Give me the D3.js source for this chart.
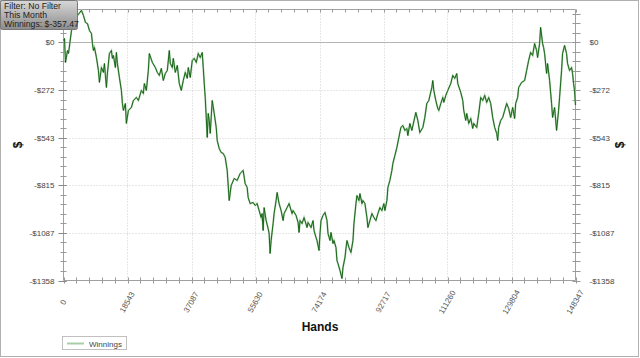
<!DOCTYPE html>
<html><head><meta charset="utf-8">
<script src="https://cdn.jsdelivr.net/npm/d3@7"></script>
<style>body{margin:0;background:#fff}svg{display:block;font-family:"Liberation Sans",Arial,sans-serif}</style>
</head><body><svg id="c" width="640" height="358"></svg>
<script>
const hands = [0,289,578,1157,1446,2314,2892,4049,5206,5784,6362,6941,7519,8098,8387,8676,8965,9544,10122,10411,10990,11568,11857,12146,12436,12725,13303,13882,14171,14460,15038,15328,15617,16195,16774,17063,17352,17930,18220,18798,19666,20244,21112,21690,22558,23136,23425,24004,24582,24871,25739,26606,27185,27763,28342,28920,29498,30077,30655,30944,31523,31812,32390,32969,33547,34126,34704,35282,35861,36150,36728,37307,37885,38464,39042,39620,40199,40488,40777,41066,41356,41645,41934,42223,42512,43090,43669,44248,44537,45115,45694,46272,46850,47429,48007,48586,49453,50321,51188,52056,52634,53213,53502,54080,54948,55526,56105,56683,57262,57551,57840,58129,58708,59286,59575,59864,60154,60732,61021,61600,61889,62467,63046,63624,63913,64781,65359,66227,66516,67384,67962,68251,68540,69119,69697,70565,70854,71722,72300,72589,73168,73457,74035,74324,74614,75192,75770,76349,76638,77216,77506,78084,78373,78952,79241,79530,80108,80687,80976,81554,81844,82133,82711,83290,83868,84157,84736,85025,85603,85892,86471,86760,87338,87917,88206,88784,89363,89941,90520,91098,91676,92255,92833,93122,93701,93990,94568,95147,95436,96014,96593,97171,97750,98328,98906,99485,99774,100352,100931,102088,102666,103244,104112,104690,105269,105847,106715,107004,107293,107872,108450,108739,109318,109896,110185,110764,111342,112210,112788,113366,113945,114234,115102,115680,115969,116548,116837,117415,117994,118572,118861,119729,120018,120307,120886,121464,122042,122621,123199,123778,124356,124934,125513,125802,126091,126670,127248,127826,128405,128983,129562,130140,130718,131008,131586,131875,132743,133610,134189,134767,135346,135924,136502,137081,137370,137948,138238,138816,139105,139394,139973,140262,140840,141419,141708,142286,142865,143443,143732,144311,144600,145178,145757,146046,146624,147203,147492,147781,148070,148347];
const winnings = [11,23,-114,-46,-63,68,126,154,183,154,114,108,68,51,-6,-46,-29,-86,-160,-228,-143,-171,-120,-188,-257,-177,-63,-46,-91,-74,-143,-57,-120,-200,-274,-348,-388,-348,-462,-388,-371,-331,-314,-331,-274,-291,-234,-274,-160,-63,-114,-143,-171,-188,-148,-217,-177,-160,-46,-120,-143,-91,-171,-131,-234,-274,-217,-171,-205,-143,-200,-103,-91,-114,-63,-86,-57,-143,-234,-314,-428,-542,-405,-445,-519,-331,-405,-485,-559,-605,-628,-633,-656,-730,-902,-816,-776,-787,-747,-730,-805,-827,-884,-919,-913,-930,-919,-959,-999,-976,-1073,-942,-1016,-1061,-1090,-1204,-1130,-1033,-976,-902,-856,-919,-959,-1016,-976,-942,-919,-976,-959,-987,-1027,-1084,-1016,-1033,-999,-1056,-1027,-1056,-1016,-1073,-1113,-1130,-1187,-1090,-1016,-987,-970,-1016,-1090,-1130,-1084,-1147,-1130,-1170,-1244,-1261,-1301,-1347,-1284,-1227,-1175,-1130,-1170,-1198,-1130,-1033,-919,-873,-902,-862,-919,-902,-919,-999,-1056,-1016,-976,-999,-1016,-976,-942,-959,-919,-959,-902,-827,-787,-730,-690,-645,-599,-542,-485,-474,-502,-491,-531,-462,-502,-399,-445,-514,-485,-428,-348,-331,-257,-217,-274,-331,-377,-388,-348,-314,-342,-302,-274,-234,-188,-205,-177,-234,-285,-331,-388,-445,-405,-462,-434,-491,-462,-485,-445,-405,-314,-331,-302,-342,-314,-348,-428,-485,-519,-559,-485,-445,-428,-388,-348,-377,-428,-371,-434,-348,-314,-257,-228,-217,-160,-103,-57,-74,-6,-46,-86,-6,86,-6,-29,-63,-177,-120,-217,-348,-428,-371,-502,-388,-314,-160,-63,-17,-63,-120,-160,-143,-177,-234,-274,-357.47];
const xTicks = [0,18543,37087,55630,74174,92717,111260,129804,148347];
const yTicks = [0,-272,-543,-815,-1087,-1358];
const yTickLabels = ["$0","-$272","-$543","-$815","-$1087","-$1358"];
const tipLines = ["Filter: No Filter","This Month","Winnings: $-357.47"];
const seriesName = "Winnings";

const svg = d3.select("#c");
const L=63.5, R=575.5, T=9.5, B=280.5;
const x = d3.scaleLinear().domain([0,148347]).range([L,R]);
const y = d3.scaleLinear().domain([-1358,188]).range([B,T]);

svg.append("rect").attr("x",0.5).attr("y",0.5).attr("width",638).attr("height",356)
  .attr("fill","#fff").attr("stroke","#b0b0b0");

const g = svg.append("g");
g.selectAll(".vg").data(xTicks.slice(1,-1)).join("line")
  .attr("x1",d=>Math.round(x(d))+0.5).attr("x2",d=>Math.round(x(d))+0.5).attr("y1",T).attr("y2",B)
  .attr("stroke","#cfcfcf").attr("stroke-dasharray","1,2");
g.selectAll(".hg").data(yTicks.slice(1,-1)).join("line")
  .attr("x1",L).attr("x2",R).attr("y1",d=>Math.round(y(d))+0.5).attr("y2",d=>Math.round(y(d))+0.5)
  .attr("stroke","#cfcfcf").attr("stroke-dasharray","1,2");
g.append("line").attr("x1",L).attr("x2",R).attr("y1",Math.round(y(0))+0.5).attr("y2",Math.round(y(0))+0.5)
  .attr("stroke","#b5b5b5");

g.append("line").attr("x1",L).attr("x2",R).attr("y1",T).attr("y2",T).attr("stroke","#a0a0a0");
g.append("line").attr("x1",L).attr("x2",R).attr("y1",B).attr("y2",B).attr("stroke","#a0a0a0");
g.append("line").attr("x1",L).attr("x2",L).attr("y1",T).attr("y2",B).attr("stroke","#a0a0a0");
g.append("line").attr("x1",R).attr("x2",R).attr("y1",T).attr("y2",B).attr("stroke","#a0a0a0");

const xStep = 148347/40, yStep = 1358/25;
const xMinor = d3.range(0,41).map(i=>i*xStep);
const yMinor = d3.range(-25,4).map(i=>i*yStep);
g.selectAll(".xm").data(xMinor).join("line")
  .attr("x1",d=>Math.round(x(d))+0.5).attr("x2",d=>Math.round(x(d))+0.5)
  .attr("y1",B-3).attr("y2",B+3).attr("stroke","#999");
g.selectAll(".xmt").data(xMinor).join("line")
  .attr("x1",d=>Math.round(x(d))+0.5).attr("x2",d=>Math.round(x(d))+0.5)
  .attr("y1",T).attr("y2",T+3).attr("stroke","#999");
g.selectAll(".ym").data(yMinor).join("line")
  .attr("x1",L-3).attr("x2",L+3).attr("y1",d=>Math.round(y(d))+0.5).attr("y2",d=>Math.round(y(d))+0.5).attr("stroke","#999");
g.selectAll(".ymr").data(yMinor).join("line")
  .attr("x1",R-3).attr("x2",R+5).attr("y1",d=>Math.round(y(d))+0.5).attr("y2",d=>Math.round(y(d))+0.5).attr("stroke","#999");
g.selectAll(".yM").data(yTicks).join("line")
  .attr("x1",L-5).attr("x2",L+3).attr("y1",d=>Math.round(y(d))+0.5).attr("y2",d=>Math.round(y(d))+0.5).attr("stroke","#888");

const line = d3.line().x((d,i)=>x(hands[i])).y(d=>y(d));
g.append("path").datum(winnings).attr("d",line).attr("fill","none")
  .attr("stroke","#a8cfa8").attr("stroke-width",1.8);
g.append("path").datum(winnings).attr("d",line).attr("fill","none")
  .attr("stroke","#0b5a0b").attr("stroke-width",0.9);

const fs = 8;
g.selectAll(".yl").data(yTicks).join("text")
  .attr("x",L-9).attr("y",d=>y(d)+3).attr("text-anchor","end").attr("font-size",fs).attr("fill","#444")
  .text((d,i)=>yTickLabels[i]);
g.selectAll(".yr").data(yTicks).join("text")
  .attr("x",R+14).attr("y",d=>y(d)+3).attr("text-anchor","start").attr("font-size",fs).attr("fill","#444")
  .text((d,i)=>yTickLabels[i]);
g.selectAll(".xl").data(xTicks).join("text")
  .attr("transform",d=>`translate(${x(d)+2},${B+23}) rotate(-60)`)
  .attr("text-anchor","middle").attr("font-size",fs).attr("fill","#555")
  .text(d=>String(d));
svg.append("text").attr("x",320).attr("y",331).attr("text-anchor","middle")
  .attr("font-size",12).attr("font-weight","bold").attr("fill","#111").text("Hands");
svg.append("text").attr("transform","translate(22,145) rotate(-90)").attr("text-anchor","middle")
  .attr("font-size",12).attr("font-weight","bold").attr("fill","#111").text("$");
svg.append("text").attr("transform","translate(624,145) rotate(-90)").attr("text-anchor","middle")
  .attr("font-size",12).attr("font-weight","bold").attr("fill","#111").text("$");

const lg = svg.append("g");
lg.append("rect").attr("x",62.5).attr("y",336.5).attr("width",64).attr("height",13).attr("fill","#fff").attr("stroke","#c0c0c0");
lg.append("line").attr("x1",67).attr("x2",84).attr("y1",343.5).attr("y2",343.5).attr("stroke","#a9cda9").attr("stroke-width",2);
lg.append("text").attr("x",89).attr("y",346.5).attr("font-size",fs).attr("fill","#444").text(seriesName);

const defs = svg.append("defs");
const gr = defs.append("linearGradient").attr("id","tg").attr("x1",0).attr("x2",0).attr("y1",0).attr("y2",1);
gr.append("stop").attr("offset","0%").attr("stop-color","#d8d8d8");
gr.append("stop").attr("offset","100%").attr("stop-color","#8c8c8c");
svg.append("rect").attr("x",0.5).attr("y",0.5).attr("width",77).attr("height",29).attr("rx",2)
  .attr("fill","url(#tg)").attr("stroke","#777");
svg.selectAll(".tt").data(tipLines).join("text")
  .attr("x",4).attr("y",(d,i)=>9+i*9).attr("font-size",8.7).attr("fill","#222").text(d=>d);
</script></body></html>
